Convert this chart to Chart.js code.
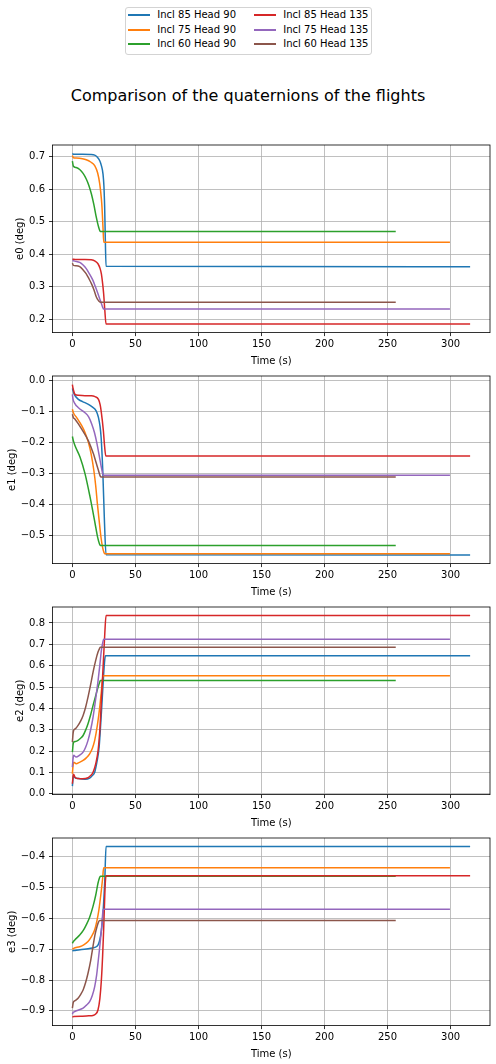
<!DOCTYPE html>
<html><head><meta charset="utf-8">
<script src="https://cdn.jsdelivr.net/npm/chart.js@4.4.0/dist/chart.umd.min.js"></script>
<style>
html,body{margin:0;padding:0;background:#fff;}
#fig{position:relative;width:496px;height:1064px;overflow:hidden;font-family:"DejaVu Sans",sans-serif;color:#000;}
canvas{position:absolute;left:0;}
#title{position:absolute;left:0;width:496px;text-align:center;font-size:16px;top:86px;line-height:20px;}
#legend{position:absolute;left:125.3px;top:7.3px;width:247px;height:47.7px;border:1px solid #d3d3d3;border-radius:3px;box-sizing:border-box;background:#fff;}
.lt{position:absolute;font-size:10px;line-height:12px;white-space:nowrap;}
.sw{position:absolute;height:1.6px;width:21.5px;}
</style></head><body>
<div id="fig">
<div id="legend"></div>
<div id="title">Comparison of the quaternions of the flights</div>
<canvas id="c0" width="496" height="236"></canvas>
<canvas id="c1" width="496" height="236"></canvas>
<canvas id="c2" width="496" height="236"></canvas>
<canvas id="c3" width="496" height="236"></canvas>
</div>
<script>
// ---- data ----
const LABELS = ["Incl 85 Head 90","Incl 75 Head 90","Incl 60 Head 90","Incl 85 Head 135","Incl 75 Head 135","Incl 60 Head 135"];
const COLORS = ["#1f77b4","#ff7f0e","#2ca02c","#d62728","#9467bd","#8c564b"];
const Y_TITLES = ["e0 (deg)","e1 (deg)","e2 (deg)","e3 (deg)"];
const X_TICKS = [0,50,100,150,200,250,300];
const Y_TICKS_E0 = [0.2,0.3,0.4,0.5,0.6,0.7];
const Y_TICKS_E1 = [-0.5,-0.4,-0.3,-0.2,-0.1,0.0];
const Y_TICKS_E2 = [0.0,0.1,0.2,0.3,0.4,0.5,0.6,0.7,0.8];
const Y_TICKS_E3 = [-0.9,-0.8,-0.7,-0.6,-0.5,-0.4];

// e0 [time, value]
const e0_85_90 = [[0,0.709],[1,0.707],[8,0.707],[14,0.706],[17.7,0.704],[20,0.697],[21.7,0.687],[23,0.672],[24.3,0.646],[25,0.61],[25.6,0.544],[26,0.47],[26.7,0.363],[315.5,0.362]];
const e0_75_90 = [[0,0.703],[0.8,0.696],[3,0.695],[8,0.693],[11,0.690],[14.5,0.683],[17.7,0.672],[20,0.650],[21.7,0.616],[23,0.57],[23.5,0.544],[24.3,0.48],[24.9,0.437],[299.5,0.437]];
const e0_60_90 = [[0,0.686],[0.8,0.670],[3,0.666],[5.8,0.660],[8.5,0.648],[11,0.631],[13,0.612],[15.1,0.585],[17,0.553],[19,0.513],[20.7,0.485],[22.2,0.470],[256.5,0.470]];
const e0_85_135 = [[0,0.385],[3,0.384],[10,0.384],[15,0.383],[18,0.379],[20.3,0.371],[22,0.356],[23,0.340],[24,0.31],[24.8,0.279],[25.7,0.23],[26.7,0.186],[315.5,0.186]];
const e0_75_135 = [[0,0.381],[2,0.379],[5.8,0.375],[8.5,0.367],[11,0.356],[13.5,0.340],[16.3,0.320],[18.5,0.298],[20.3,0.279],[22,0.260],[23,0.249],[24,0.238],[24.8,0.232],[299.5,0.232]];
const e0_60_135 = [[0,0.373],[0.8,0.366],[3,0.365],[5.8,0.362],[8.5,0.352],[11,0.340],[13,0.326],[15.1,0.310],[17,0.292],[19,0.269],[20.7,0.258],[22.2,0.253],[256.5,0.253]];

// e1
const e1_85_90 = [[0,-0.026],[1.5,-0.045],[4.8,-0.061],[8,-0.068],[12.7,-0.077],[16,-0.086],[18,-0.093],[19.5,-0.104],[20.7,-0.120],[22,-0.15],[22.8,-0.184],[24.1,-0.291],[25.4,-0.451],[26.7,-0.563],[315.5,-0.564]];
const e1_75_90 = [[0,-0.093],[0.8,-0.104],[3.4,-0.120],[7.4,-0.146],[10,-0.168],[12.7,-0.200],[15,-0.240],[17,-0.290],[18.5,-0.340],[19.8,-0.397],[21.3,-0.455],[22.6,-0.504],[24,-0.540],[25,-0.555],[25.6,-0.560],[299.5,-0.560]];
const e1_60_90 = [[0,-0.181],[0.8,-0.195],[2.1,-0.211],[6.1,-0.248],[10,-0.301],[14,-0.376],[16,-0.418],[18,-0.462],[20,-0.506],[21.5,-0.528],[22.2,-0.533],[256.5,-0.533]];
const e1_85_135 = [[0,-0.013],[0.5,-0.025],[2.1,-0.045],[4.8,-0.048],[10,-0.049],[15,-0.049],[18,-0.052],[20.7,-0.061],[22,-0.078],[22.8,-0.098],[24.6,-0.163],[25.5,-0.21],[26.5,-0.244],[315.5,-0.244]];
const e1_75_135 = [[0,-0.045],[0.5,-0.06],[1.6,-0.072],[4.8,-0.088],[10,-0.104],[13,-0.118],[15.4,-0.141],[17.5,-0.168],[19.3,-0.200],[22,-0.259],[23.2,-0.285],[24.5,-0.306],[299.5,-0.306]];
const e1_60_135 = [[0,-0.109],[0.8,-0.12],[2.1,-0.125],[7.4,-0.157],[12.7,-0.195],[16.7,-0.237],[18.8,-0.265],[20.7,-0.291],[22,-0.308],[22.8,-0.312],[256.5,-0.312]];

// e2
const e2_85_90 = [[0,0.036],[0.6,0.075],[1,0.083],[2,0.076],[5,0.071],[10,0.068],[13.7,0.073],[15.8,0.085],[17.7,0.101],[19.5,0.15],[21.2,0.218],[22.5,0.33],[23.6,0.438],[24.7,0.55],[25.7,0.630],[26.3,0.647],[315.5,0.647]];
const e2_75_90 = [[0,0.094],[0.6,0.135],[1,0.148],[3,0.141],[5.5,0.147],[8.5,0.156],[11,0.168],[13.7,0.187],[15.8,0.212],[17.7,0.250],[19.8,0.32],[21.7,0.406],[23,0.48],[24.3,0.553],[299.5,0.553]];
const e2_60_90 = [[0,0.195],[0.6,0.232],[1,0.242],[2.5,0.245],[4.5,0.250],[6.5,0.260],[8.5,0.273],[10.5,0.298],[12.4,0.328],[14.5,0.370],[16.4,0.414],[18.5,0.460],[20.4,0.500],[21.5,0.520],[22.2,0.531],[256.5,0.531]];
const e2_85_135 = [[0,0.047],[0.6,0.085],[1,0.091],[2,0.078],[4.5,0.071],[8,0.070],[12.4,0.075],[14.5,0.085],[16.4,0.101],[18.5,0.14],[20.4,0.203],[22,0.32],[23,0.438],[24.5,0.61],[25.7,0.750],[26.7,0.835],[315.5,0.835]];
const e2_75_135 = [[0,0.125],[0.6,0.168],[1,0.180],[3,0.172],[5.5,0.180],[8.5,0.195],[10.5,0.218],[12.4,0.250],[14.5,0.300],[16.4,0.359],[18.5,0.445],[20.4,0.531],[21.8,0.605],[23,0.672],[24,0.705],[24.8,0.724],[299.5,0.724]];
const e2_60_135 = [[0,0.242],[0.6,0.285],[1,0.297],[2.5,0.305],[4.5,0.320],[6.5,0.340],[8.5,0.367],[10.5,0.405],[12.4,0.453],[14.5,0.512],[16.4,0.570],[18.5,0.625],[20.4,0.665],[21.5,0.680],[22.2,0.686],[256.5,0.686]];

// e3
const e3_85_90 = [[0,-0.705],[3,-0.703],[11,-0.699],[16,-0.696],[18.9,-0.692],[20.5,-0.685],[21.7,-0.670],[23,-0.64],[24.3,-0.583],[25.7,-0.476],[26.7,-0.367],[315.5,-0.367]];
const e3_75_90 = [[0,-0.700],[1,-0.697],[5.8,-0.692],[9,-0.686],[12.4,-0.675],[15,-0.660],[17.7,-0.637],[19.5,-0.607],[21,-0.573],[23,-0.508],[24,-0.47],[24.8,-0.436],[299.5,-0.436]];
const e3_60_90 = [[0,-0.681],[0.5,-0.677],[1.9,-0.670],[5.8,-0.654],[8.5,-0.640],[11,-0.621],[13.7,-0.596],[16.3,-0.562],[18.5,-0.525],[20.3,-0.486],[21.4,-0.470],[22.2,-0.463],[256.5,-0.463]];
const e3_85_135 = [[0,-0.920],[1,-0.918],[8,-0.917],[13,-0.916],[16.3,-0.915],[18.5,-0.910],[20.3,-0.897],[21.8,-0.86],[23,-0.800],[24,-0.72],[24.8,-0.637],[26.1,-0.486],[26.7,-0.462],[315.5,-0.462]];
const e3_75_135 = [[0,-0.911],[0.6,-0.905],[1.9,-0.902],[5,-0.897],[8.5,-0.891],[11,-0.882],[13.7,-0.870],[15.8,-0.850],[17.7,-0.821],[19.2,-0.785],[20.3,-0.745],[21.5,-0.700],[22.5,-0.659],[23.5,-0.615],[24.3,-0.573],[24.8,-0.570],[299.5,-0.570]];
const e3_60_135 = [[0,-0.891],[0.6,-0.875],[1,-0.870],[2.5,-0.866],[4.5,-0.859],[6.5,-0.847],[8.5,-0.832],[10.5,-0.808],[12.4,-0.778],[14.5,-0.737],[16.3,-0.692],[18,-0.652],[19.5,-0.627],[20.7,-0.612],[21.7,-0.607],[256.5,-0.607]];

const PANELS = [
  [e0_85_90,e0_75_90,e0_60_90,e0_85_135,e0_75_135,e0_60_135],
  [e1_85_90,e1_75_90,e1_60_90,e1_85_135,e1_75_135,e1_60_135],
  [e2_85_90,e2_75_90,e2_60_90,e2_85_135,e2_75_135,e2_60_135],
  [e3_85_90,e3_75_90,e3_60_90,e3_85_135,e3_75_135,e3_60_135]
];
const Y_TICKS = [Y_TICKS_E0,Y_TICKS_E1,Y_TICKS_E2,Y_TICKS_E3];

// ---- layout ----
const FONT = {family:"'DejaVu Sans', sans-serif", size:10, lineHeight:1.2};
const PANEL_TOP0 = 144.7, PANEL_STEP = 231.2, PANEL_H = 187.6, PAD_TOP = 6, CANVAS_H = 236;
const YTITLE_PAD = [14, 6.3, 14, 6.3];

// legend (HTML)
(function(){
  const lg = document.getElementById('legend');
  const rows = [7.7, 22.7, 37];
  LABELS.forEach((lab, i) => {
    const col = i < 3 ? 0 : 1, row = i % 3;
    const sw = document.createElement('div');
    sw.className = 'sw';
    sw.style.background = COLORS[i];
    sw.style.left = (col ? 128 : 2) + 'px';
    sw.style.top = (rows[row] - 1.8) + 'px';
    lg.appendChild(sw);
    const t = document.createElement('div');
    t.className = 'lt';
    t.textContent = lab;
    t.style.left = (col ? 157 : 31) + 'px';
    t.style.top = (rows[row] - 7) + 'px';
    lg.appendChild(t);
  });
})();

const frame = {id:'frame', afterDraw(c){
  const a = c.chartArea, ctx = c.ctx;
  ctx.save(); ctx.strokeStyle = '#000'; ctx.lineWidth = 0.8;
  ctx.strokeRect(a.left, a.top, a.right - a.left, a.bottom - a.top);
  ctx.restore();
}};

let xmaxData = 0;
PANELS.forEach(p => p.forEach(s => s.forEach(pt => { if (pt[0] > xmaxData) xmaxData = pt[0]; })));
const xm = xmaxData * 0.05;
const XMIN = 0 - xm, XMAX = xmaxData + xm;

function fmt(v){ return v.toFixed(1).replace('-', '\u2212'); }

PANELS.forEach((series, pi) => {
  const cv = document.getElementById('c' + pi);
  cv.style.top = (PANEL_TOP0 + pi * PANEL_STEP - PAD_TOP) + 'px';
  let ymin = Infinity, ymax = -Infinity;
  series.forEach(s => s.forEach(pt => { ymin = Math.min(ymin, pt[1]); ymax = Math.max(ymax, pt[1]); }));
  const m = (ymax - ymin) * 0.05; ymin -= m; ymax += m;
  const datasets = series.map((s, i) => ({
    label: LABELS[i],
    data: s.map(pt => ({x: pt[0], y: pt[1]})),
    borderColor: COLORS[i],
    backgroundColor: COLORS[i],
    borderWidth: 1.5,
    pointRadius: 0,
    fill: false,
    cubicInterpolationMode: 'monotone',
    order: 10 - i
  }));
  new Chart(cv, {
    type: 'line',
    data: {datasets},
    options: {
      responsive: false, animation: false,
      layout: {padding: {top: PAD_TOP, right: 6, left: 0, bottom: 0}},
      plugins: {legend: {display: false}, tooltip: {enabled: false}},
      scales: {
        x: {
          type: 'linear', min: XMIN, max: XMAX,
          afterBuildTicks: s => { s.ticks = X_TICKS.map(v => ({value: v})); },
          afterFit: s => { s.height = CANVAS_H - PAD_TOP - PANEL_H; s.paddingLeft = 0; s.paddingRight = 0; },
          ticks: {color: '#000', font: FONT, padding: 2, maxRotation: 0, autoSkip: false, callback: v => String(v)},
          grid: {color: '#b0b0b0', lineWidth: 0.8, tickColor: '#000', tickLength: 3.5, tickWidth: 0.8},
          border: {display: false},
          title: {display: true, text: 'Time (s)', color: '#000', font: FONT, padding: {top: 0, bottom: 7.3}}
        },
        y: {
          type: 'linear', min: ymin, max: ymax,
          afterBuildTicks: s => { s.ticks = Y_TICKS[pi].map(v => ({value: v})); },
          afterFit: s => { s.width = 52.5; s.paddingTop = 0; s.paddingBottom = 0; },
          ticks: {color: '#000', font: FONT, padding: 4, autoSkip: false, callback: v => fmt(v)},
          grid: {color: '#b0b0b0', lineWidth: 0.8, tickColor: '#000', tickLength: 3.5, tickWidth: 0.8},
          border: {display: false},
          title: {display: true, text: Y_TITLES[pi], color: '#000', font: FONT, padding: {top: YTITLE_PAD[pi], bottom: 0}}
        }
      }
    },
    plugins: [frame]
  });
});
</script>
</body></html>
